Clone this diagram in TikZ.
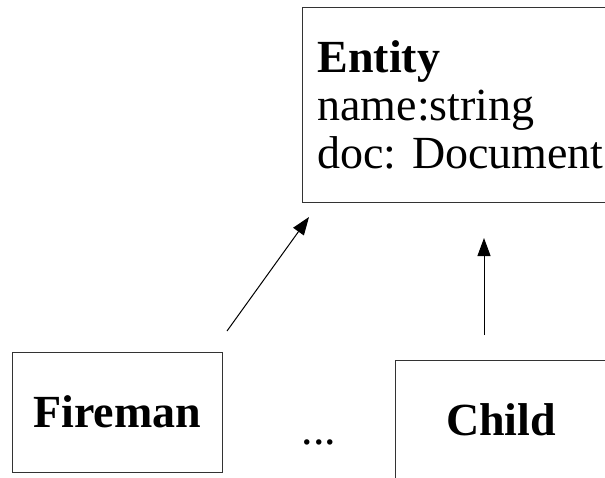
\documentclass[tikz,border=0pt]{standalone}
\usepackage{fontspec}
\setmainfont{Liberation Serif}
\usetikzlibrary{arrows.meta}
\frenchspacing
\begin{document}
\begin{tikzpicture}[x=1pt,y=-1pt,
  box/.style={draw=black!80,line width=1pt,rectangle,inner sep=0pt},
  big/.style={font=\fontsize{46}{48}\selectfont},
  arr/.style={line width=1pt,-{Triangle[length=18pt,width=13pt]}}]
\useasboundingbox (0,0) rectangle (605,477);
\clip (0,0) rectangle (605,477);
\node[box,big,anchor=north west,minimum height=195pt,
  text width=330pt,inner xsep=15pt,align=left] (entity) at (302,7)
  {\textbf{Entity}\\name:string\\doc: Document};
\node[box,big,minimum width=210pt,minimum height=120pt] (fireman) at (117,412) {\textbf{Fireman}};
\node[box,big,minimum width=212pt,minimum height=120pt] (child) at (501,420) {\textbf{Child}};
\node[big,anchor=base,inner sep=0pt] (dots) at (319,444) {...};
\coordinate (a1s) at (227,331);
\coordinate (a1e) at (309,217);
\coordinate (a2s) at (484,335);
\coordinate (a2e) at (484,238);
\draw[arr] (a1s) -- (a1e);
\draw[arr] (a2s) -- (a2e);
\end{tikzpicture}
\end{document}
